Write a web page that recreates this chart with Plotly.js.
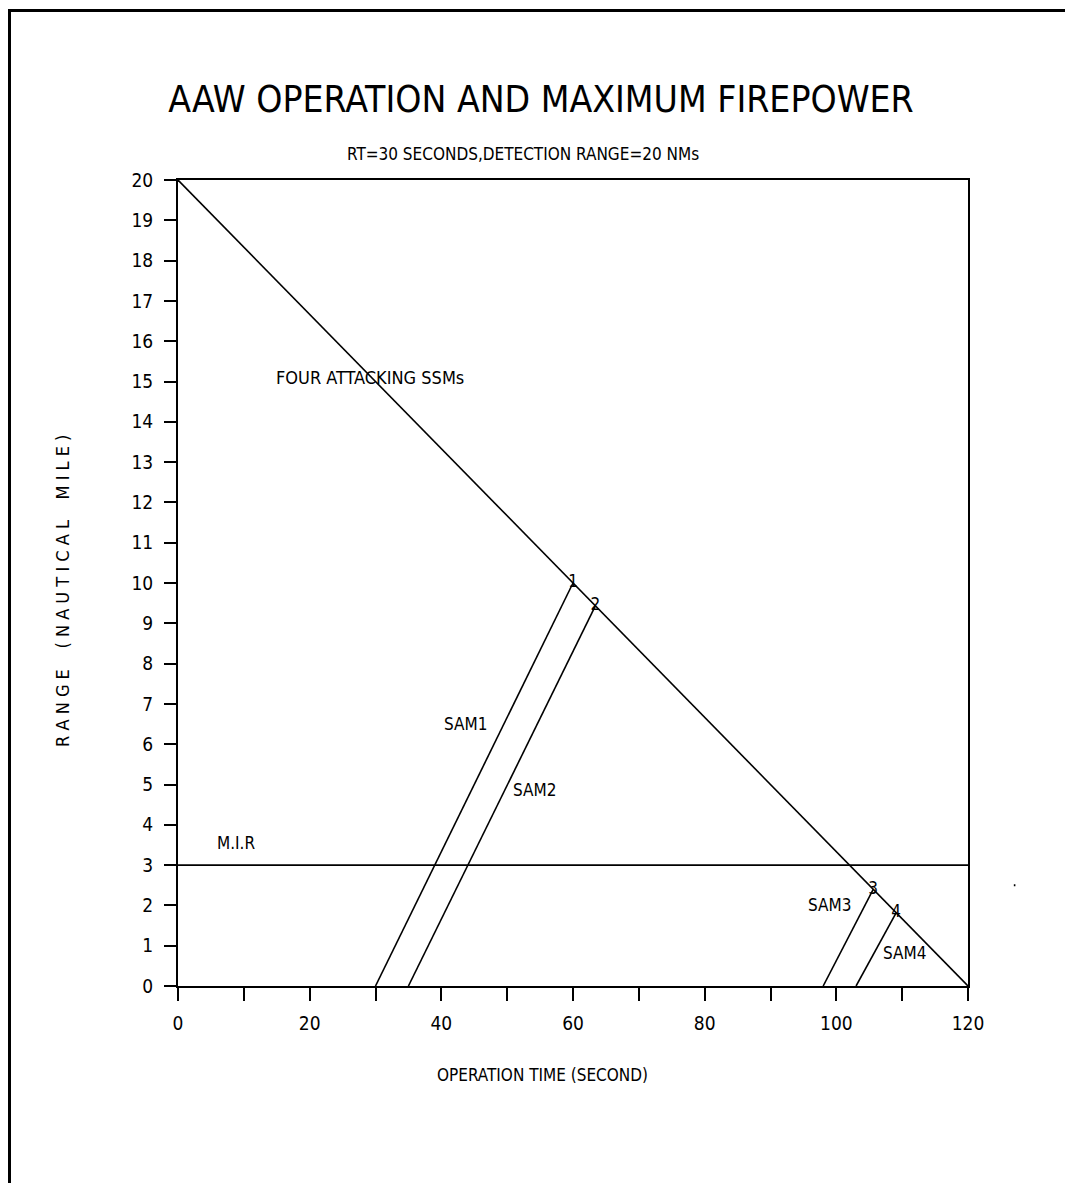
<!DOCTYPE html>
<html>
<head>
<meta charset="utf-8">
<script src="https://cdn.plot.ly/plotly-3.0.1.min.js"></script>
<style>
html,body{margin:0;padding:0;background:#fff;}
#wrap{position:relative;width:1065px;height:1183px;}
#frame{position:absolute;left:8px;top:9px;width:1065px;height:1183px;border-left:3px solid #000;border-top:3px solid #000;pointer-events:none;z-index:5;}
</style>
</head>
<body>
<div id="wrap"><div id="frame"></div><div id="chart"></div></div>
<script>
// ---- data ----
const ssmTime = [0, 120];
const ssmRange = [20, 0];
const mirTime = [0, 120];
const mirRange = [3, 3];
const sam1Time = [30, 60];
const sam1Range = [0, 10];
const sam2Time = [35, 63.4];
const sam2Range = [0, 9.43];
const sam3Time = [98, 105.6];
const sam3Range = [0, 2.4];
const sam4Time = [103, 109.1];
const sam4Range = [0, 1.82];

const xTickVals = [0,10,20,30,40,50,60,70,80,90,100,110,120];
const xTickText = ['0','','20','','40','','60','','80','','100','','120'];
const yTickVals = [0,1,2,3,4,5,6,7,8,9,10,11,12,13,14,15,16,17,18,19,20];

const labelTexts = ['FOUR ATTACKING SSMs','M.I.R','SAM1','SAM2','SAM3','SAM4'];
const labelX = [29.2, 8.8, 43.6, 54.2, 99.0, 110.4];
const labelY = [15.1, 3.55, 6.5, 4.86, 2.0, 0.82];
const endTexts = ['1','2','3','4'];
// ---------------

const FONT = '"Liberation Sans Narrow", "DejaVu Sans Condensed", "Liberation Sans", sans-serif';
const line = {color:'#000', width:1.6};
function tr(x,y){return {x:x,y:y,type:'scatter',mode:'lines',line:line,hoverinfo:'skip',showlegend:false,cliponaxis:false};}

const traces = [tr(ssmTime,ssmRange), tr(mirTime,mirRange), tr(sam1Time,sam1Range),
  tr(sam2Time,sam2Range), tr(sam3Time,sam3Range), tr(sam4Time,sam4Range)];

const ends = [[sam1Time,sam1Range],[sam2Time,sam2Range],[sam3Time,sam3Range],[sam4Time,sam4Range]];
traces.push({
  x: ends.map(e=>e[0][1]), y: ends.map(e=>e[1][1]),
  type:'scatter', mode:'text', text:endTexts, textposition:'middle center',
  textfont:{family:FONT,size:17,color:'#000'}, hoverinfo:'skip', showlegend:false, cliponaxis:false
});

const annotations = labelTexts.map((t,i)=>({
  x:labelX[i], y:labelY[i], xref:'x', yref:'y', text:t, showarrow:false,
  font:{family:FONT,size:i===0?18:17,color:'#000'}, xanchor:'center', yanchor:'middle'
}));
annotations.push({
  xref:'paper', yref:'paper', x:0.437, y:1.032, text:'RT=30 SECONDS,DETECTION RANGE=20 NMs',
  showarrow:false, font:{family:FONT,size:17,color:'#000'}, xanchor:'center', yanchor:'middle'
});
annotations.push({
  xref:'paper', yref:'paper', x:0.462, y:-0.11, text:'OPERATION TIME (SECOND)',
  showarrow:false, font:{family:FONT,size:17,color:'#000'}, xanchor:'center', yanchor:'middle'
});
annotations.push({
  xref:'paper', yref:'paper', x:-0.147, y:0.49, textangle:-90,
  text:'R A N G E    ( N A U T I C A L    M I L E )',
  showarrow:false, font:{family:FONT,size:18,color:'#000'}, xanchor:'center', yanchor:'middle'
});

const layout = {
  width:1065, height:1183,
  margin:{l:178, r:97, t:180, b:197, pad:0},
  paper_bgcolor:'#fff', plot_bgcolor:'#fff',
  title:{text:'AAW OPERATION AND MAXIMUM FIREPOWER', font:{family:FONT,size:37,color:'#000'},
    x:0.508, xanchor:'center', y:0.916, yanchor:'middle'},
  xaxis:{range:[0,120], tickmode:'array', tickvals:xTickVals, ticktext:xTickText,
    ticks:'outside', ticklen:13, tickwidth:2, tickcolor:'#000', ticklabelstandoff:6,
    showline:true, linecolor:'#000', linewidth:2, mirror:true,
    showgrid:false, zeroline:false, tickfont:{family:FONT,size:19,color:'#000'}},
  yaxis:{range:[0,20], tickmode:'array', tickvals:yTickVals,
    ticks:'outside', ticklen:12, tickwidth:2, tickcolor:'#000', ticklabelstandoff:7,
    showline:true, linecolor:'#000', linewidth:2, mirror:true,
    showgrid:false, zeroline:false, tickfont:{family:FONT,size:19,color:'#000'}},
  annotations:annotations,
  shapes:[{type:'line', xref:'paper', yref:'paper', x0:1.058, x1:1.06, y0:0.125, y1:0.125, line:{color:'#000',width:2}}]
};

Plotly.newPlot('chart', traces, layout, {displayModeBar:false, staticPlot:true});
</script>
</body>
</html>
